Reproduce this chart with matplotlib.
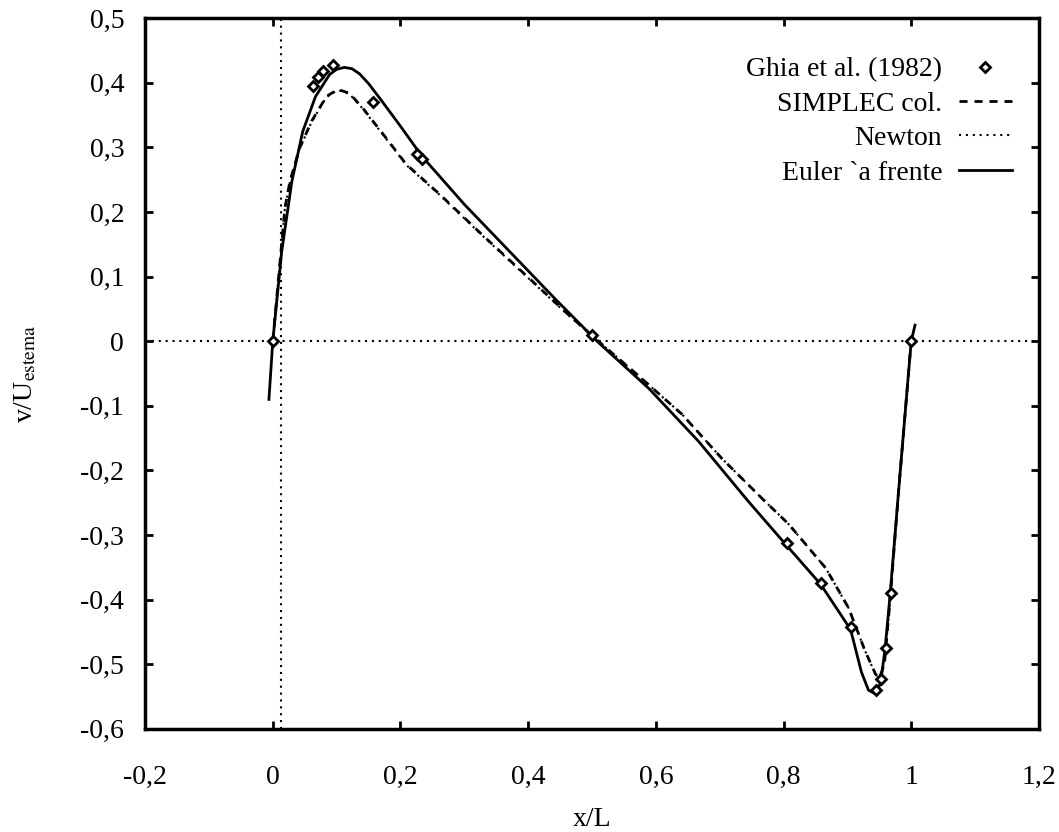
import matplotlib
matplotlib.use('Agg')
import matplotlib.pyplot as plt

plt.rcParams['font.family'] = ['Liberation Serif', 'DejaVu Serif']
plt.rcParams['mathtext.fontset'] = 'stix'

# Ghia et al. (1982), v along the horizontal centre line
ghia_x = [1.0, 0.9688, 0.9609, 0.9531, 0.9453, 0.9063, 0.8594, 0.8047, 0.5,
          0.2344, 0.2266, 0.1563, 0.0938, 0.0781, 0.0703, 0.0625, 0.0]
ghia_v = [0.0, -0.39017, -0.47425, -0.52357, -0.54053, -0.44307, -0.37401, -0.31184, 0.00999,
          0.28188, 0.29030, 0.37119, 0.42768, 0.41906, 0.40917, 0.39560, 0.0]

# SIMPLEC col.
simplec_x = [0.0, 0.019, 0.027, 0.042, 0.061, 0.084, 0.102, 0.120, 0.141, 0.178, 0.209, 0.261,
             0.33, 0.40, 0.46, 0.51, 0.569, 0.641, 0.703, 0.766, 0.808, 0.866, 0.902, 0.928,
             0.944, 0.950, 0.958, 0.967, 0.98, 1.0]
simplec_v = [0.0, 0.206, 0.248, 0.299, 0.341, 0.379, 0.390, 0.384, 0.361, 0.314, 0.274, 0.228,
             0.163, 0.099, 0.044, 0.0, -0.050, -0.113, -0.181, -0.243, -0.283, -0.351, -0.413, -0.480,
             -0.515, -0.522, -0.500, -0.400, -0.235, 0.0]

# Newton (lies on top of SIMPLEC)
newton_x = [0.0, 0.019, 0.027, 0.042, 0.061, 0.084, 0.102, 0.120, 0.141, 0.178, 0.209, 0.261,
            0.33, 0.40, 0.46, 0.51, 0.569, 0.641, 0.703, 0.766, 0.808, 0.866, 0.902, 0.928,
            0.944, 0.950, 0.958, 0.967, 0.98, 1.0]
newton_v = [0.0, 0.205, 0.247, 0.298, 0.340, 0.378, 0.389, 0.383, 0.360, 0.313, 0.273, 0.227,
            0.162, 0.098, 0.043, 0.0, -0.050, -0.113, -0.181, -0.243, -0.283, -0.351, -0.413, -0.480,
            -0.515, -0.522, -0.500, -0.400, -0.235, 0.0]

# Euler a frente
euler_x = [-0.006, 0.0, 0.014, 0.030, 0.047, 0.067, 0.089, 0.100, 0.112, 0.124, 0.136, 0.150,
           0.167, 0.200, 0.234, 0.30, 0.37, 0.44, 0.508, 0.589, 0.667, 0.745, 0.803, 0.858,
           0.905, 0.922, 0.933, 0.944, 0.952, 0.959, 0.967, 0.98, 1.0, 1.006]
euler_v = [-0.09, 0.0, 0.139, 0.248, 0.325, 0.379, 0.413, 0.421, 0.424, 0.422, 0.414, 0.399,
           0.377, 0.333, 0.286, 0.212, 0.140, 0.068, 0.0, -0.073, -0.155, -0.248, -0.314, -0.376,
           -0.446, -0.512, -0.540, -0.546, -0.529, -0.477, -0.392, -0.235, 0.0, 0.025]

xticks = [-0.2, 0.0, 0.2, 0.4, 0.6, 0.8, 1.0, 1.2]
xtick_labels = ['-0,2', '0', '0,2', '0,4', '0,6', '0,8', '1', '1,2']
yticks = [0.5, 0.4, 0.3, 0.2, 0.1, 0.0, -0.1, -0.2, -0.3, -0.4, -0.5, -0.6]
ytick_labels = ['0,5', '0,4', '0,3', '0,2', '0,1', '0', '-0,1', '-0,2', '-0,3', '-0,4', '-0,5', '-0,6']

fig = plt.figure(figsize=(10.59, 8.32), dpi=100)
ax = fig.add_axes([0.137, 0.124, 0.844, 0.854])

# zero lines
ax.axhline(0.0, color='black', lw=1.5, ls=(0, (1, 2.3)), zorder=1)
ax.axvline(0.0125, color='black', lw=1.5, ls=(0, (1, 2.3)), zorder=1)

ax.plot(ghia_x, ghia_v, ls='none', marker='D', ms=5.5, mfc='white', mec='black', mew=2,
        label='Ghia et al. (1982)', zorder=5)
ax.plot(simplec_x, simplec_v, color='black', lw=2, ls=(0, (2.9, 2.5)), label='SIMPLEC col.')
ax.plot(newton_x, newton_v, color='black', lw=1.5, ls=(0, (1, 2.3)), label='Newton')
ax.plot(euler_x, euler_v, color='black', lw=2, ls='-', label='Euler `a frente')

ax.set_xlim(-0.2, 1.2)
ax.set_ylim(-0.6, 0.5)
ax.set_xticks(xticks)
ax.set_xticklabels(xtick_labels)
ax.set_yticks(yticks)
ax.set_yticklabels(ytick_labels)
ax.tick_params(direction='in', top=True, right=True, length=6, width=2, labelsize=20)
ax.tick_params(axis='x', pad=26)
ax.tick_params(axis='y', pad=15)
for s in ax.spines.values():
    s.set_linewidth(2.5)

ax.set_xlabel('x/L', fontsize=20, labelpad=12)
ax.set_ylabel(r'v/U$_{\mathrm{estema}}$', fontsize=20, labelpad=30)

ax.legend(loc='upper right', bbox_to_anchor=(0.985, 0.965), frameon=False, markerfirst=False,
          fontsize=20, handlelength=1.9, handletextpad=0.6, labelspacing=0.32, borderpad=0)

fig.savefig('out.png', dpi=100)
